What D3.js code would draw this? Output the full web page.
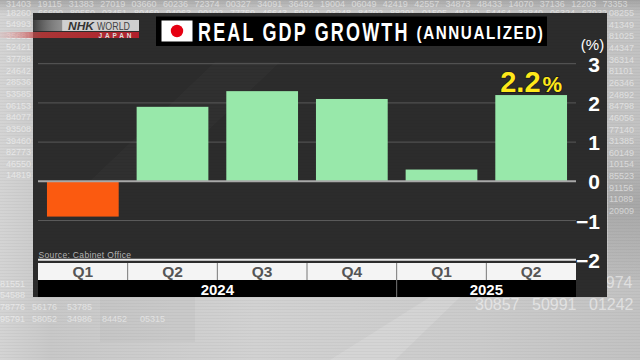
<!DOCTYPE html>
<html>
<head>
<meta charset="utf-8">
<script src="https://cdn.jsdelivr.net/npm/d3@7"></script>
<style>
  html, body { margin: 0; padding: 0; background: #bbb; overflow: hidden; }
  svg { display: block; }
  text { font-family: "Liberation Sans", Arial, sans-serif; }
</style>
</head>
<body>
<div id="chart"></div>
<script>
const quarters = ['Q1', 'Q2', 'Q3', 'Q4', 'Q1', 'Q2'];
const years = ['2024', '2024', '2024', '2024', '2025', '2025'];
const gdpValues = [-0.9, 1.9, 2.3, 2.1, 0.3, 2.2];
const yTicks = [3, 2, 1, 0, -1, -2];
const titleText = 'REAL GDP GROWTH';
const subtitleText = '(ANNUALIZED)';
const sourceText = 'Source: Cabinet Office';
const lastLabel = '2.2';

// ticker digits behind the panel
const leftDigits = ['54993', '35681', '52421', '37788', '24642', '28536', '53585', '06153', '84077', '93508', '39460', '82773', '46550', '14819'];
const rightDigits = ['08255', '41349', '81025', '44347', '36314', '81101', '26346', '24892', '84798', '46056', '77140', '31385', '60149', '10154', '85523', '91156', '11089', '20909'];
const topDigits = ['31403', '19115', '31383', '27019', '03660', '60236', '72374', '00327', '34091', '36492', '19004', '06049', '42419', '42557', '34873', '48433', '14070', '37136', '12203', '73353'];
const secondDigits = ['18260', '66690', '89550', '03451', '80469', '94063', '90102', '77759', '46643', '50190', '03248', '84792', '88291', '01505', '48120', '54464', '38840', '06324', '67932'];
const lowDigits = [['81551'], ['54588'], ['78776', '56176', '53785'], ['95791', '58052', '34986', '84452', '05315']];
const lowColumns = [0, 32, 67, 102, 140];
const lowRightDigits = ['04974'];
const lowRightRow = ['30857', '50991', '01242'];

const width = 640, height = 360;
const svg = d3.select('#chart').append('svg').attr('width', width).attr('height', height);
const defs = svg.append('defs');

function gradient(id, horizontal, stops) {
  const g = defs.append('linearGradient').attr('id', id)
    .attr('x1', 0).attr('y1', 0).attr('x2', horizontal ? 1 : 0).attr('y2', horizontal ? 0 : 1);
  stops.forEach(s => g.append('stop').attr('offset', s[0]).attr('stop-color', s[1]).attr('stop-opacity', s[2]));
}

gradient('bg', true, [['0%', '#d4d4d4', 1], ['8%', '#c8c8c8', 1], ['40%', '#d2d2d2', 1], ['75%', '#cbcbcb', 1], ['100%', '#c2c2c2', 1]]);
gradient('topShade', false, [['0%', '#808080', 0.45], ['100%', '#808080', 0]]);
gradient('rightShade', false, [['0%', '#808080', 0], ['50%', '#808080', 0.4], ['100%', '#808080', 0.1]]);
gradient('logoFade', true, [['0%', '#d0d0d0', 0.1], ['27%', '#9a9a9a', 0.9], ['28%', '#d0d0d0', 1], ['100%', '#cfcfcf', 1]]);
gradient('redFade', true, [['0%', '#e8a0a0', 0.2], ['30%', '#c03838', 0.85], ['100%', '#b0202c', 1]]);

const scan = defs.append('pattern').attr('id', 'scan').attr('width', 4).attr('height', 3).attr('patternUnits', 'userSpaceOnUse');
scan.append('rect').attr('width', 4).attr('height', 1).attr('fill', '#000').attr('fill-opacity', 0.03);

svg.append('rect').attr('width', width).attr('height', height).attr('fill', 'url(#bg)');
svg.append('rect').attr('width', width).attr('height', 14).attr('fill', 'url(#topShade)');
svg.append('rect').attr('x', 608).attr('y', 130).attr('width', 32).attr('height', 150).attr('fill', 'url(#rightShade)');
svg.append('rect').attr('x', 100).attr('y', 297).attr('width', 95).attr('height', 45).attr('fill', '#9c9c9c').attr('fill-opacity', 0.1);
svg.append('polygon').attr('points', [[430, 297], [460, 297], [395, 360], [330, 360]].join(' ')).attr('fill', '#fff').attr('fill-opacity', 0.14);
svg.append('rect').attr('width', width).attr('height', height).attr('fill', 'url(#scan)');

// background digits
const digitG = svg.append('g').attr('fill', '#fff').attr('fill-opacity', 0.5).style('font-size', '9px');
digitG.selectAll('.dl').data(leftDigits).enter().append('text')
  .attr('x', 6).attr('y', (d, i) => 27 + i * 11.65).text(d => d);
digitG.selectAll('.dr').data(rightDigits).enter().append('text')
  .attr('x', 609).attr('y', (d, i) => 16 + i * 11.65).text(d => d);
digitG.selectAll('.dt').data(topDigits).enter().append('text')
  .attr('x', (d, i) => 6 + i * 31.4).attr('y', 7).text(d => d);
digitG.selectAll('.ds').data(secondDigits).enter().append('text')
  .attr('x', (d, i) => 6 + i * 32).attr('y', 15.5).text(d => d);
lowDigits.forEach((row, r) => {
  digitG.selectAll('.low' + r).data(row).enter().append('text')
    .attr('x', (d, i) => lowColumns[i])
    .attr('y', 286.5 + r * 11.7).text(d => d);
});
digitG.selectAll('.lr').data(lowRightDigits).enter().append('text')
  .attr('x', 588).attr('y', 288).style('font-size', '16px').text(d => d);
digitG.selectAll('.lrr').data(lowRightRow).enter().append('text')
  .attr('x', (d, i) => 475 + i * 57).attr('y', 310).style('font-size', '16px').text(d => d);

// dark panel
svg.append('rect').attr('x', 33).attr('y', 13).attr('width', 574).attr('height', 284).attr('fill', '#2c2c2c');
svg.append('polygon').attr('points', [[90, 181], [215, 62], [280, 62], [155, 181]].join(' ')).attr('fill', '#fff').attr('fill-opacity', 0.022);
svg.append('rect').attr('x', 33).attr('y', 13).attr('width', 574).attr('height', 284).attr('fill', 'url(#scan)');

const x = d3.scaleBand().domain(d3.range(quarters.length)).range([38, 576]).paddingInner(0.2).paddingOuter(0.1);
const y = d3.scaleLinear().domain([-2, 3]).range([259.7, 63.7]);

// gridlines
svg.append('g').selectAll('line').data(yTicks.filter(d => d !== 0)).enter().append('line')
  .attr('x1', 38).attr('x2', 576)
  .attr('y1', d => y(d)).attr('y2', d => y(d))
  .attr('stroke', d => d === -2 ? '#e8e8e8' : '#5a5a5a')
  .attr('stroke-width', d => d === -2 ? 2 : 1);

// bars
svg.append('g').selectAll('rect').data(gdpValues).enter().append('rect')
  .attr('x', (d, i) => x(i))
  .attr('width', x.bandwidth())
  .attr('y', d => y(Math.max(d, 0)))
  .attr('height', d => Math.abs(y(d) - y(0)))
  .attr('fill', d => d < 0 ? '#fb5a10' : '#98e8aa');

// zero line
svg.append('line').attr('x1', 38).attr('x2', 576).attr('y1', y(0)).attr('y2', y(0))
  .attr('stroke', '#a8a8a8').attr('stroke-width', 2);

// y axis labels
const yAxis = svg.append('g').attr('transform', 'translate(600,0)')
  .call(d3.axisLeft(y).tickValues(yTicks).tickSize(0).tickPadding(0).tickFormat(d3.format('d')));
yAxis.select('.domain').remove();
yAxis.selectAll('text')
  .attr('fill', '#fff').attr('font-weight', 700)
  .style('font-family', '"Liberation Sans", Arial, sans-serif')
  .style('font-size', '21px').attr('dy', '0.36em');

svg.append('text').attr('x', 592.5).attr('y', 50).attr('text-anchor', 'middle')
  .attr('fill', '#fff').style('font-size', '15px').text('(%)');

// value label on last bar
const lastIdx = gdpValues.length - 1;
const lastLbl = svg.append('text').attr('x', x(lastIdx) + x.bandwidth() / 2).attr('y', y(gdpValues[lastIdx]) - 3.5)
  .attr('text-anchor', 'middle').attr('fill', '#ffe81a').attr('font-weight', 700)
  .style('font-size', '29px').style('paint-order', 'stroke')
  .attr('stroke', '#1a1a1a').attr('stroke-width', 1.5);
lastLbl.append('tspan').text(lastLabel);
lastLbl.append('tspan').style('font-size', '22px').attr('dx', 2).text('%');

// title box
svg.append('rect').attr('x', 156).attr('y', 16.5).attr('width', 391).attr('height', 29.5).attr('fill', '#000');
svg.append('rect').attr('x', 161.5).attr('y', 20.5).attr('width', 31).attr('height', 21).attr('fill', '#fff');
svg.append('circle').attr('cx', 177).attr('cy', 31).attr('r', 6.2).attr('fill', '#e60012');
svg.append('text').attr('transform', 'translate(198,40.5) scale(0.72,1)').attr('fill', '#fff').attr('font-weight', 700)
  .style('font-size', '25px').style('letter-spacing', '3px').text(titleText);
svg.append('text').attr('transform', 'translate(416.5,38.5) scale(0.8,1)').attr('fill', '#fff').attr('font-weight', 700)
  .style('font-size', '19px').style('letter-spacing', '2px').text(subtitleText);

// logo
svg.append('rect').attr('x', 33).attr('y', 20).attr('width', 106).attr('height', 11).attr('fill', 'url(#logoFade)');
svg.append('rect').attr('x', 0).attr('y', 32).attr('width', 139).attr('height', 6).attr('fill', 'url(#redFade)');
svg.append('text').attr('x', 68).attr('y', 30).attr('fill', '#333').attr('font-weight', 700).attr('font-style', 'italic')
  .attr('textLength', 26).attr('lengthAdjust', 'spacingAndGlyphs')
  .style('font-size', '11px').text('NHK');
svg.append('text').attr('x', 97).attr('y', 30).attr('fill', '#444')
  .attr('textLength', 33).attr('lengthAdjust', 'spacingAndGlyphs')
  .style('font-size', '10.5px').text('WORLD');
svg.append('text').attr('x', 98.5).attr('y', 37.5).attr('fill', '#ddd').attr('font-weight', 700)
  .attr('textLength', 33).attr('lengthAdjust', 'spacing')
  .style('font-size', '6.5px').text('JAPAN');

// source
svg.append('text').attr('x', 38.5).attr('y', 258).attr('fill', '#b4b4b4')
  .attr('textLength', 92.5).attr('lengthAdjust', 'spacing')
  .style('font-size', '8.5px').text(sourceText);

// quarter strip
const stripTop = 263, stripMid = 280, stripBot = 297;
svg.append('rect').attr('x', 38).attr('y', stripTop).attr('width', 538).attr('height', stripMid - stripTop).attr('fill', '#f4f4f4');
svg.append('rect').attr('x', 38).attr('y', stripMid).attr('width', 538).attr('height', stripBot - stripMid).attr('fill', '#000');

const stripX = d3.scaleBand().domain(d3.range(quarters.length)).range([38, 576]);
svg.append('g').selectAll('text').data(quarters).enter().append('text')
  .attr('x', (d, i) => stripX(i) + stripX.bandwidth() / 2)
  .attr('y', 277).attr('text-anchor', 'middle')
  .attr('fill', '#555').attr('font-weight', 700).style('font-size', '15.5px').text(d => d);

svg.append('g').selectAll('line').data(d3.range(1, quarters.length)).enter().append('line')
  .attr('x1', d => stripX(d)).attr('x2', d => stripX(d))
  .attr('y1', stripTop).attr('y2', d => years[d] !== years[d - 1] ? stripBot : stripMid)
  .attr('stroke', '#777').attr('stroke-width', 1);

const yearGroups = d3.groups(d3.range(quarters.length), i => years[i]);
svg.append('g').selectAll('text').data(yearGroups).enter().append('text')
  .attr('x', d => (stripX(d[1][0]) + stripX(d[1][d[1].length - 1]) + stripX.bandwidth()) / 2)
  .attr('y', 295).attr('text-anchor', 'middle')
  .attr('fill', '#fff').attr('font-weight', 700).style('font-size', '15px').text(d => d[0]);
</script>
</body>
</html>
